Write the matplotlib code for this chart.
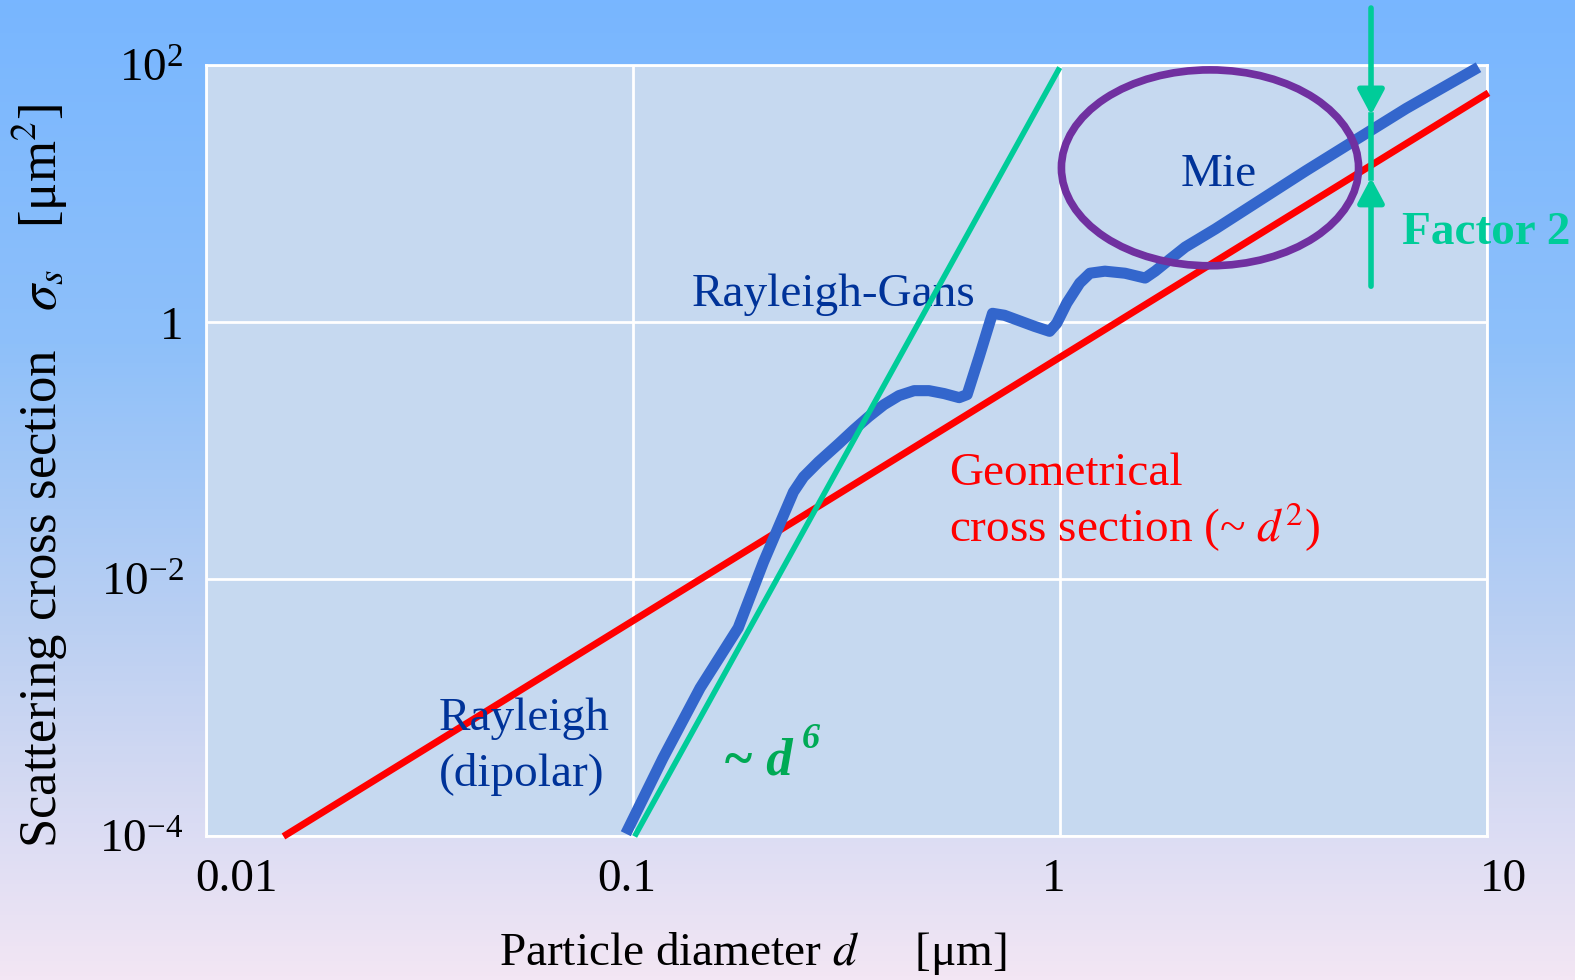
import numpy as np
import matplotlib
matplotlib.use("Agg")
import matplotlib.pyplot as plt
from matplotlib.patches import Ellipse
from matplotlib.colors import LinearSegmentedColormap
from matplotlib.transforms import ScaledTranslation

plt.rcParams['font.family'] = ['Liberation Serif', 'DejaVu Serif']
plt.rcParams['mathtext.fontset'] = 'stix'

# Mie scattering curve
mie_d = [0.0963, 0.1177, 0.1438, 0.1766, 0.2023, 0.2379, 0.2512, 0.2723, 0.3036,
         0.3294, 0.357, 0.3876, 0.4202, 0.456, 0.494, 0.536, 0.5815, 0.607, 0.648,
         0.696, 0.742, 0.873, 0.947, 0.984, 1.039, 1.114, 1.177, 1.276, 1.422,
         1.585, 1.673, 1.815, 1.968, 2.316, 3.772, 6.48, 9.57]
mie_s = [1.05e-4, 4.07e-4, 1.43e-3, 4.2e-3, 0.0136, 0.0479, 0.0627, 0.082, 0.1135,
         0.146, 0.1845, 0.2288, 0.269, 0.294, 0.294, 0.279, 0.2594, 0.274, 0.542,
         1.175, 1.135, 0.93, 0.851, 0.982, 1.41, 2.02, 2.41, 2.50, 2.41,
         2.21, 2.50, 3.11, 3.85, 5.33, 15.1, 46.1, 96.5]

# geometrical cross section ~ d^2
geo_d = [0.0152, 10.1]
geo_s = [1e-4, 61.0]

# Rayleigh ~ d^6
ray_d = [0.101, 1.0]
ray_s = [1e-4, 96.0]

# factor 2 arrows
f2_d = 5.36
f2_top, f2_tip_down = 279.0, 41.0
f2_bottom, f2_tip_up = 1.91, 13.3

xticks = [0.01, 0.1, 1, 10]
xlabels = ['0.01', '0.1', '1', '10']
yticks = [1e-4, 1e-2, 1, 1e2]
ylabels = [r'$\mathregular{10^{-4}}$', r'$\mathregular{10^{-2}}$', '1', r'$\mathregular{10^{2}}$']

fig = plt.figure(figsize=(15.75, 9.8), dpi=100)

# background gradient
bg = fig.add_axes([0, 0, 1, 1], zorder=-10)
cmap = LinearSegmentedColormap.from_list('bg', [(0, '#78B6FF'), (0.35, '#8EC0FA'),
                                                (0.65, '#BCD0F2'), (1, '#F3E6F4')])
bg.imshow(np.linspace(0, 1, 256).reshape(-1, 1), aspect='auto', cmap=cmap,
          extent=[0, 1, 1, 0])
bg.set_axis_off()

ax = fig.add_axes([0.1307, 0.1465, 0.8132, 0.7869])
ax.set_facecolor('#C6D9F0')
ax.set_xscale('log')
ax.set_yscale('log')
ax.set_xlim(0.01, 10)
ax.set_ylim(1e-4, 1e2)
ax.minorticks_off()
ax.set_xticks(xticks)
ax.set_xticklabels(xlabels)
ax.set_yticks(yticks)
ax.set_yticklabels(ylabels)
ax.tick_params(length=0, labelsize=34, pad=16)
ax.grid(True, color='white', lw=2)
for sp in ax.spines.values():
    sp.set_color('white')
    sp.set_linewidth(2)

# small shifts of x tick labels, as in the picture
for lab, dx in zip(ax.get_xticklabels(), [22, -4, -4, 12]):
    lab.set_transform(lab.get_transform() + ScaledTranslation(dx / 72, 0, fig.dpi_scale_trans))

ax.plot(geo_d, geo_s, color='#FF0000', lw=5, clip_on=False, solid_capstyle='butt', zorder=3)
ax.plot(ray_d, ray_s, color='#00CC99', lw=4, clip_on=False, solid_capstyle='butt', zorder=4)
ax.plot(mie_d, mie_s, color='#3366CC', lw=8, clip_on=False, solid_capstyle='butt',
        solid_joinstyle='round', zorder=3)

ell = Ellipse((0.784, 0.867), 0.232, 0.254, transform=ax.transAxes, fill=False,
              ec='#7030A0', lw=5.5, zorder=5)
ax.add_patch(ell)

# factor 2 arrows
arrow = dict(arrowstyle='-|>,head_length=0.75,head_width=0.4', color='#00CC99',
             lw=4, shrinkA=0, shrinkB=0, mutation_scale=20)
ax.annotate('', xy=(f2_d, f2_tip_down), xytext=(f2_d, f2_top), arrowprops=arrow,
            annotation_clip=False, zorder=6)
ax.annotate('', xy=(f2_d, f2_tip_up), xytext=(f2_d, f2_bottom), arrowprops=arrow,
            annotation_clip=False, zorder=6)
ax.plot([f2_d, f2_d], [f2_tip_up, f2_tip_down], color='#00CC99', lw=4, zorder=6)

txtc = '#003399'
ax.text(0.379, 0.6875, 'Rayleigh-Gans', transform=ax.transAxes, fontsize=34, color=txtc)
ax.text(0.761, 0.844, 'Mie', transform=ax.transAxes, fontsize=34, color=txtc)
ax.text(0.182, 0.138, 'Rayleigh', transform=ax.transAxes, fontsize=34, color=txtc)
ax.text(0.182, 0.065, '(dipolar)', transform=ax.transAxes, fontsize=34, color=txtc)
ax.text(0.580, 0.456, 'Geometrical', transform=ax.transAxes, fontsize=34, color='#FF0000')
ax.text(0.580, 0.3815, r'cross section (~ $d^2$)', transform=ax.transAxes, fontsize=34,
        color='#FF0000')
ax.text(0.404, 0.080, '~ d', transform=ax.transAxes, fontsize=38, color='#00AA55',
        fontweight='bold', style='italic')
ax.text(0.465, 0.115, '6', transform=ax.transAxes, fontsize=26, color='#00AA55',
        fontweight='bold', style='italic')

fig.text(0.890, 0.751, 'Factor 2', fontsize=34, color='#00CC99', fontweight='bold')

fig.text(0.0255, 0.514, r'Scattering cross section   $\sigma_s$   [μm$^2$]', fontsize=38,
         rotation=90, ha='center', va='center')
fig.text(0.317, 0.0266, r'Particle diameter $d$     [μm]', fontsize=34, ha='left', va='center')

fig.savefig('out.png', dpi=100)
